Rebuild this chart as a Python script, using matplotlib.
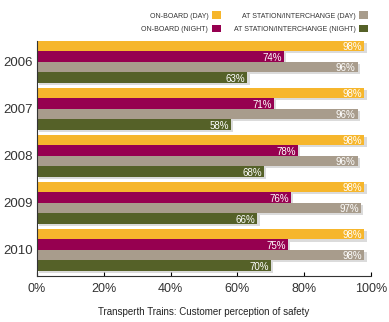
import matplotlib.pyplot as plt
import matplotlib.patheffects as pe
from matplotlib.patches import Patch
from matplotlib.ticker import FuncFormatter

years = ["2006", "2007", "2008", "2009", "2010"]
onboard_day = [98, 98, 98, 98, 98]
onboard_night = [74, 71, 78, 76, 75]
station_day = [96, 96, 96, 97, 98]
station_night = [63, 58, 68, 66, 70]

series = [onboard_day, onboard_night, station_day, station_night]
names = ["ON-BOARD (DAY)", "ON-BOARD (NIGHT)",
         "AT STATION/INTERCHANGE (DAY)", "AT STATION/INTERCHANGE (NIGHT)"]
colors = ["#F6B62C", "#960050", "#A89C8C", "#556128"]

plt.rcParams['font.family'] = ['Liberation Sans', 'DejaVu Sans']

fig = plt.figure(figsize=(3.89, 3.22), dpi=100)
ax = fig.add_axes([0.095, 0.143, 0.859, 0.730])

bh = 0.223
shadow = [pe.SimplePatchShadow(offset=(1.5, -1.5), shadow_rgbFace='#888888', alpha=0.3), pe.Normal()]
for j, (vals, col) in enumerate(zip(series, colors)):
    ys = [i + (j + 0.5) * bh for i in range(len(years))]
    bars = ax.barh(ys, vals, height=bh, color=col, zorder=2)
    for b in bars:
        b.set_path_effects(shadow)
    for y, v in zip(ys, vals):
        ax.text(v - 0.6, y + 0.02, f"{v}%", ha='right', va='center',
                color='white', fontsize=7, zorder=3)

ax.set_ylim(5, 0)
ax.set_xlim(0, 100)
ax.set_yticks([i + 2 * bh for i in range(len(years))])
ax.set_yticklabels(years, fontsize=9.5, color='#333333')
ax.set_xticks([0, 20, 40, 60, 80, 100])
ax.xaxis.set_major_formatter(FuncFormatter(lambda v, p: f"{int(v)}%"))
ax.tick_params(axis='x', labelsize=9, labelcolor='#333333', direction='in', length=3, pad=5)
ax.tick_params(axis='y', direction='in', length=3, pad=3)
for s in ['top', 'right']:
    ax.spines[s].set_visible(False)
ax.spines['left'].set_color('#333333')
ax.spines['bottom'].set_color('#333333')
ax.spines['left'].set_zorder(4)

ax.set_xlabel("Transperth Trains: Customer perception of safety", fontsize=7,
              color='#222222', labelpad=9)

handles = [Patch(facecolor=c) for c in colors]
fig.legend(handles, names, ncol=2, markerfirst=False, frameon=False,
           loc='upper right', bbox_to_anchor=(0.963, 0.984), fontsize=5,
           borderpad=0.4, handlelength=1.3, handleheight=1.3, handletextpad=0.5,
           columnspacing=1.9, labelspacing=0.72, labelcolor='#333333')

fig.savefig("out.png", dpi=100)
